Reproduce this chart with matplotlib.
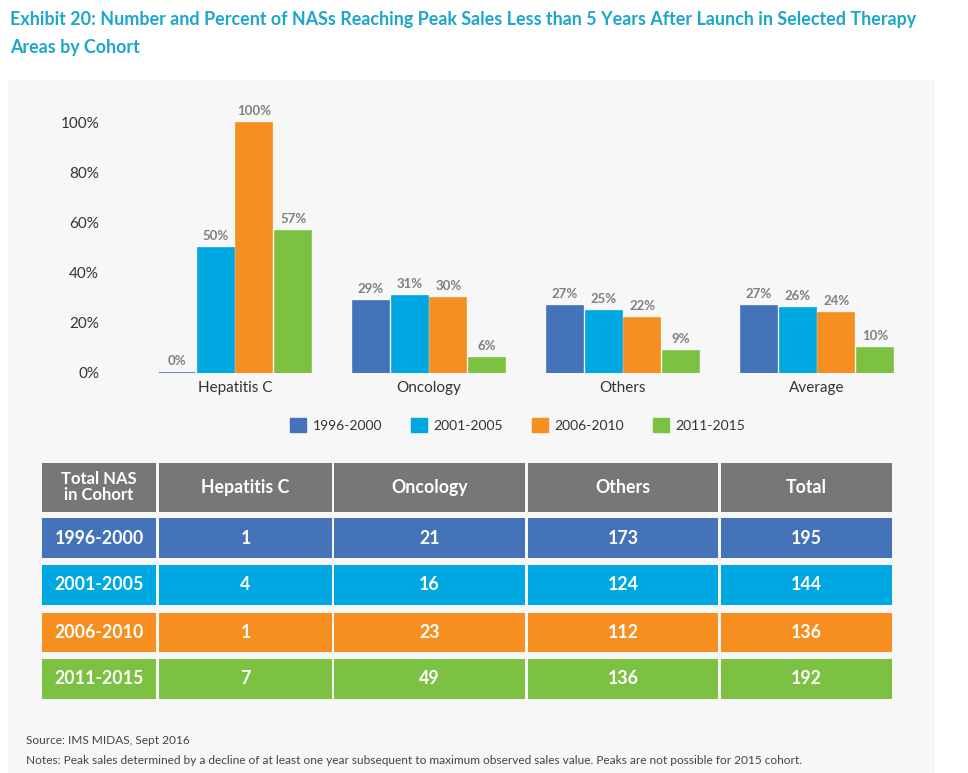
import matplotlib.pyplot as plt
from matplotlib.patches import Rectangle, Patch

plt.rcParams['font.family'] = ['Lato', 'DejaVu Sans']

# Data
areas = ["Hepatitis C", "Oncology", "Others", "Average"]
cohorts = ["1996-2000", "2001-2005", "2006-2010", "2011-2015"]
pct_1996 = [0.00, 0.29, 0.27, 0.27]
pct_2001 = [0.50, 0.31, 0.25, 0.26]
pct_2006 = [1.00, 0.30, 0.22, 0.24]
pct_2011 = [0.57, 0.06, 0.09, 0.10]
series = [pct_1996, pct_2001, pct_2006, pct_2011]

table_header = ["Total NAS\nin Cohort", "Hepatitis C", "Oncology", "Others", "Total"]
n_hepc = [1, 4, 1, 7]
n_onc = [21, 16, 23, 49]
n_oth = [173, 124, 112, 136]
n_total = [195, 144, 136, 192]

colors = ["#4573b9", "#00a8e1", "#f68f1f", "#7dc142"]
header_gray = "#77777a"
title_color = "#1ca6cb"

W, H = 968, 773
fig = plt.figure(figsize=(W / 100, H / 100), dpi=100)

# background axes in pixel coordinates
bg = fig.add_axes([0, 0, 1, 1], zorder=0)
bg.set_xlim(0, W)
bg.set_ylim(H, 0)
bg.axis("off")
bg.add_patch(Rectangle((8, 80), 927, 700, color="#f7f7f7", lw=0))

bg.text(10, 20, "Exhibit 20: Number and Percent of NASs Reaching Peak Sales Less than 5 Years After Launch in Selected Therapy",
        color=title_color, fontsize=12.9, fontweight="bold", va="center", ha="left")
bg.text(10, 47, "Areas by Cohort", color=title_color, fontsize=12.9,
        fontweight="bold", va="center", ha="left")

# chart
ax = fig.add_axes([138 / W, 1 - 373 / H, 776 / W, 267 / H], zorder=1)
ax.patch.set_alpha(0)
step = 0.2
width = 0.185
for i, (vals, c, lab) in enumerate(zip(series, colors, cohorts)):
    xs = [g + (i - 1.5) * step for g in range(len(areas))]
    ax.bar(xs, vals, width=width, color=c, edgecolor=c, linewidth=1.2, label=lab)
    for x, v in zip(xs, vals):
        ax.annotate(f"{v * 100:.0f}%", (x, v), xytext=(0, 4), textcoords="offset points",
                    ha="center", va="bottom", fontsize=9.5, fontweight="bold", color="#808080")

ax.set_xlim(-0.5, 3.5)
ax.set_ylim(0, 1.068)
ax.set_yticks([0, 0.2, 0.4, 0.6, 0.8, 1.0])
ax.set_yticklabels(["0%", "20%", "40%", "60%", "80%", "100%"])
ax.set_xticks(range(len(areas)))
ax.set_xticklabels(areas)
ax.tick_params(axis="y", length=0, pad=28, labelsize=11, labelcolor="#333333")
ax.tick_params(axis="x", length=0, pad=6, labelsize=11, labelcolor="#333333")
for s in ax.spines.values():
    s.set_visible(False)

handles = [Patch(facecolor=c, edgecolor=c) for c in colors]
fig.legend(handles, cohorts, loc="center", bbox_to_anchor=(518 / W, 1 - 425 / H),
           ncol=4, frameon=False, fontsize=10, handlelength=1.1, handleheight=1.1,
           columnspacing=2.1, handletextpad=0.5, labelcolor="#333333")

# table
col_edges = [(42, 156), (159, 332), (334, 525), (528, 718), (721, 892)]
row_edges = [(463, 512), (518, 558), (565, 605), (613, 652), (659, 699)]
for k, ((x0, x1), txt) in enumerate(zip(col_edges, table_header)):
    y0, y1 = row_edges[0]
    bg.add_patch(Rectangle((x0, y0), x1 - x0, y1 - y0, color=header_gray, lw=0))
    bg.text((x0 + x1) / 2, (y0 + y1) / 2, txt, color="white",
            fontsize=12 if k == 0 else 12.8,
            fontweight="bold", ha="center", va="center", linespacing=1.0)

for r, cohort in enumerate(cohorts):
    y0, y1 = row_edges[r + 1]
    row = [cohort, n_hepc[r], n_onc[r], n_oth[r], n_total[r]]
    for (x0, x1), val in zip(col_edges, row):
        bg.add_patch(Rectangle((x0, y0), x1 - x0, y1 - y0, color=colors[r], lw=0))
        bg.text((x0 + x1) / 2, (y0 + y1) / 2, str(val), color="white", fontsize=12.8,
                fontweight="bold", ha="center", va="center")

bg.text(26, 741, "Source: IMS MIDAS, Sept 2016", fontsize=8.6, color="#444444",
        ha="left", va="center")
bg.text(26, 760, "Notes: Peak sales determined by a decline of at least one year subsequent to maximum observed sales value. "
        "Peaks are not possible for 2015 cohort.", fontsize=8.6, color="#444444", ha="left", va="center")

fig.savefig("out.png", dpi=100)
